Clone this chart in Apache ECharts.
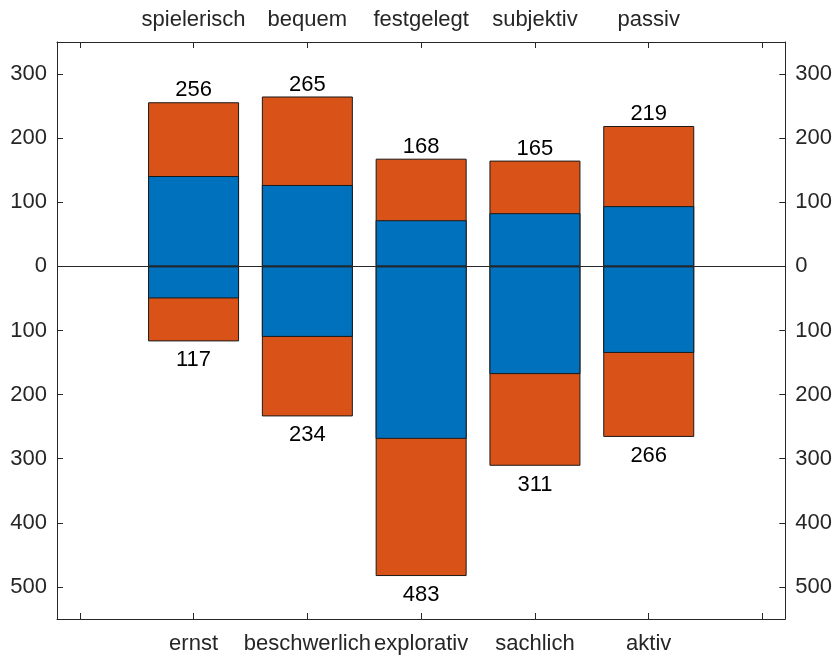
<!DOCTYPE html>
<html>
<head>
<meta charset="utf-8">
<script src="https://cdn.jsdelivr.net/npm/echarts@6/dist/echarts.min.js"></script>
<style>html,body{margin:0;padding:0;background:#fff}#c{width:835px;height:657px}</style>
</head>
<body>
<div id="c"></div>
<script>
// Data
var bottomCategories = ['ernst', 'beschwerlich', 'explorativ', 'sachlich', 'aktiv'];
var topCategories = ['spielerisch', 'bequem', 'festgelegt', 'subjektiv', 'passiv'];
var upTotals = [256, 265, 168, 165, 219];
var upBlue = [141, 127, 72, 83, 94];
var downTotals = [117, 234, 483, 311, 266];
var downBlue = [50, 110, 269, 168, 135];
var yTickValues = [-500, -400, -300, -200, -100, 0, 100, 200, 300];
var xPositions = [1, 2, 3, 4, 5];
var xTickValues = [0, 1, 2, 3, 4, 5, 6];

var BLUE = '#0072BD', ORANGE = '#D95319', AX = '#262626';
var FONT = '"Liberation Sans", Arial, Helvetica, sans-serif';
var FS = 22;

function pts(vals, sign) {
  return vals.map(function (v, i) { return [xPositions[i], sign * v]; });
}

function xAxisCfg(pos, names) {
  return {
    type: 'value', position: pos, min: -0.2, max: 6.2,
    axisLine: { show: true, onZero: false, lineStyle: { color: AX, width: 1 } },
    axisTick: { show: true, inside: true, length: 6, customValues: xTickValues, lineStyle: { color: AX } },
    axisLabel: {
      show: true, customValues: xPositions, margin: pos === 'top' ? 11 : 14,
      color: AX, fontSize: FS, fontFamily: FONT,
      formatter: function (v) { return names[Math.round(v) - 1] || ''; }
    },
    splitLine: { show: false }
  };
}
function yAxisCfg(pos) {
  return {
    type: 'value', position: pos, min: -550, max: 350,
    axisLine: { show: true, onZero: false, lineStyle: { color: AX, width: 1 } },
    axisTick: { show: true, inside: true, length: 6, customValues: yTickValues, lineStyle: { color: AX } },
    axisLabel: {
      show: true, customValues: yTickValues, margin: 10,
      color: AX, fontSize: FS, fontFamily: FONT,
      formatter: function (v) { return String(Math.abs(v)); }
    },
    splitLine: { show: false }
  };
}

function mk(data, color, extra) {
  var s = {
    type: 'bar', barWidth: 91, barGap: '-100%',
    xAxisIndex: 0, yAxisIndex: 0,
    data: data,
    itemStyle: { color: color, borderColor: '#1a1a1a', borderWidth: 1 }
  };
  return Object.assign(s, extra || {});
}

var chart = echarts.init(document.getElementById('c'), null, { renderer: 'canvas' });
chart.setOption({
  animation: false,
  backgroundColor: '#fff',
  grid: { left: 57, right: 47, top: 42, bottom: 38, containLabel: false },
  xAxis: [xAxisCfg('bottom', bottomCategories), xAxisCfg('top', topCategories)],
  yAxis: [yAxisCfg('left'), yAxisCfg('right')],
  series: [
    mk(pts(upTotals, 1), ORANGE, {
      label: { show: true, position: 'top', distance: 1, color: '#000', fontSize: FS, fontFamily: FONT,
        formatter: function (p) { return String(upTotals[p.dataIndex]); } }
    }),
    mk(pts(downTotals, -1), ORANGE, {
      label: { show: true, position: 'bottom', distance: 8, color: '#000', fontSize: FS, fontFamily: FONT,
        formatter: function (p) { return String(downTotals[p.dataIndex]); } }
    }),
    mk(pts(upBlue, 1), BLUE),
    mk(pts(downBlue, -1), BLUE, {
      markLine: {
        silent: true, symbol: 'none', z: 10,
        label: { show: false },
        lineStyle: { color: AX, width: 1, type: 'solid' },
        data: [{ yAxis: 0 }]
      }
    })
  ]
});
</script>
</body>
</html>
